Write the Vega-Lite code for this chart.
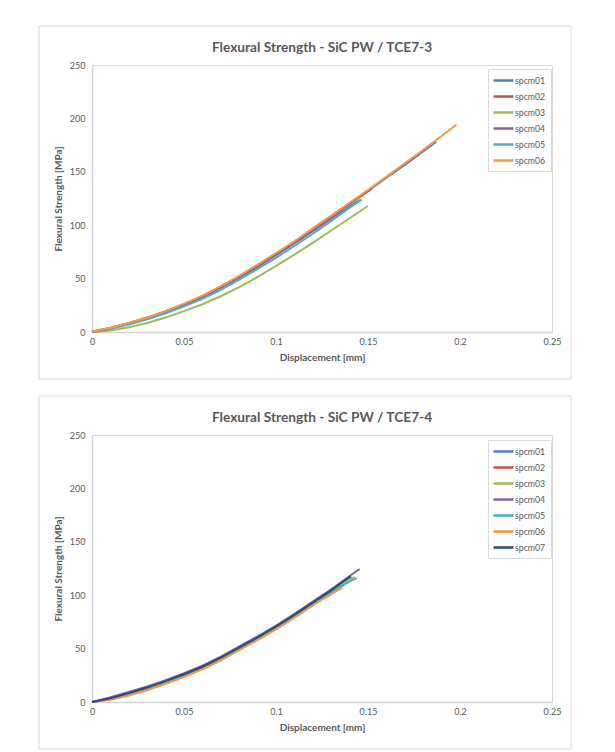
{
  "$schema": "https://vega.github.io/schema/vega-lite/v6.json",
  "padding": {"left": 38, "top": 25, "right": 5, "bottom": 2},
  "background": "white",
  "spacing": 15,
  "resolve": {"scale": {"color": "independent"}, "legend": {"color": "independent"}},
  "config": {
    "font": "Lato",
    "view": {"stroke": "#d9d9d9", "strokeWidth": 1},
    "axis": {
      "domainColor": "#d4d4d4", "domainWidth": 1.5, "ticks": false, "labelFlush": false,
      "gridColor": "#d9d9d9", "gridDash": [4, 3], "gridWidth": 1,
      "labelColor": "#595959", "labelFont": "Lato", "labelFontSize": 9,
      "titleColor": "#595959", "titleFont": "Lato", "titleFontSize": 10, "titleFontWeight": "bold"
    },
    "title": {"font": "Lato", "fontSize": 13.7, "fontWeight": "bold", "color": "#595959", "anchor": "middle", "offset": -29},
    "legend": {
      "orient": "none", "title": null, "symbolType": "M-2,0H2", "symbolSize": 100, "symbolStrokeWidth": 2.5, "symbolOffset": 4,
      "labelFont": "Lato", "labelFontSize": 8.7, "labelColor": "#595959", "labelOffset": 5,
      "strokeColor": "#d9d9d9", "fillColor": "white", "padding": 5, "rowPadding": 4
    }
  },
  "datasets": {
    "t3": [
      {"s":"spcm01","d":0,"f":0},{"s":"spcm01","d":0.01,"f":3.5},{"s":"spcm01","d":0.02,"f":8},{"s":"spcm01","d":0.03,"f":13},{"s":"spcm01","d":0.04,"f":19},{"s":"spcm01","d":0.05,"f":25.5},{"s":"spcm01","d":0.06,"f":33},{"s":"spcm01","d":0.07,"f":42},{"s":"spcm01","d":0.08,"f":51.5},{"s":"spcm01","d":0.09,"f":62},{"s":"spcm01","d":0.1,"f":73},{"s":"spcm01","d":0.11,"f":84},{"s":"spcm01","d":0.12,"f":96},{"s":"spcm01","d":0.13,"f":108},{"s":"spcm01","d":0.14,"f":120},{"s":"spcm01","d":0.15,"f":132},{"s":"spcm01","d":0.16,"f":144.5},{"s":"spcm01","d":0.17,"f":156.5},{"s":"spcm01","d":0.18,"f":169},{"s":"spcm01","d":0.187,"f":178},
      {"s":"spcm02","d":0,"f":0.5},{"s":"spcm02","d":0.01,"f":4},{"s":"spcm02","d":0.02,"f":8.5},{"s":"spcm02","d":0.03,"f":13.5},{"s":"spcm02","d":0.04,"f":19.5},{"s":"spcm02","d":0.05,"f":26},{"s":"spcm02","d":0.06,"f":33.5},{"s":"spcm02","d":0.07,"f":42.5},{"s":"spcm02","d":0.08,"f":52},{"s":"spcm02","d":0.09,"f":62.5},{"s":"spcm02","d":0.1,"f":73.5},{"s":"spcm02","d":0.11,"f":84.5},{"s":"spcm02","d":0.12,"f":96.5},{"s":"spcm02","d":0.13,"f":108.5},{"s":"spcm02","d":0.14,"f":120.5},{"s":"spcm02","d":0.152,"f":134},
      {"s":"spcm03","d":0,"f":0},{"s":"spcm03","d":0.01,"f":1.5},{"s":"spcm03","d":0.02,"f":4.5},{"s":"spcm03","d":0.03,"f":8.5},{"s":"spcm03","d":0.04,"f":13.5},{"s":"spcm03","d":0.05,"f":19.5},{"s":"spcm03","d":0.06,"f":26},{"s":"spcm03","d":0.07,"f":33.5},{"s":"spcm03","d":0.08,"f":42},{"s":"spcm03","d":0.09,"f":51.5},{"s":"spcm03","d":0.1,"f":62},{"s":"spcm03","d":0.11,"f":72.5},{"s":"spcm03","d":0.12,"f":83.5},{"s":"spcm03","d":0.13,"f":95},{"s":"spcm03","d":0.14,"f":106.5},{"s":"spcm03","d":0.15,"f":118},
      {"s":"spcm04","d":0,"f":0},{"s":"spcm04","d":0.01,"f":3.5},{"s":"spcm04","d":0.02,"f":8},{"s":"spcm04","d":0.03,"f":13},{"s":"spcm04","d":0.04,"f":19},{"s":"spcm04","d":0.05,"f":25.5},{"s":"spcm04","d":0.06,"f":33},{"s":"spcm04","d":0.07,"f":41.5},{"s":"spcm04","d":0.08,"f":51},{"s":"spcm04","d":0.09,"f":61},{"s":"spcm04","d":0.1,"f":72},{"s":"spcm04","d":0.11,"f":83},{"s":"spcm04","d":0.12,"f":94.5},{"s":"spcm04","d":0.13,"f":106},{"s":"spcm04","d":0.14,"f":117.5},{"s":"spcm04","d":0.146,"f":124},
      {"s":"spcm05","d":0,"f":0},{"s":"spcm05","d":0.01,"f":3},{"s":"spcm05","d":0.02,"f":7},{"s":"spcm05","d":0.03,"f":12},{"s":"spcm05","d":0.04,"f":17.5},{"s":"spcm05","d":0.05,"f":24},{"s":"spcm05","d":0.06,"f":31},{"s":"spcm05","d":0.07,"f":39.5},{"s":"spcm05","d":0.08,"f":49},{"s":"spcm05","d":0.09,"f":59},{"s":"spcm05","d":0.1,"f":69.5},{"s":"spcm05","d":0.11,"f":80.5},{"s":"spcm05","d":0.12,"f":92},{"s":"spcm05","d":0.13,"f":104},{"s":"spcm05","d":0.14,"f":116.5},{"s":"spcm05","d":0.1466,"f":124},
      {"s":"spcm06","d":0,"f":0.5},{"s":"spcm06","d":0.01,"f":4},{"s":"spcm06","d":0.02,"f":8.5},{"s":"spcm06","d":0.03,"f":13.5},{"s":"spcm06","d":0.04,"f":19.5},{"s":"spcm06","d":0.05,"f":26.5},{"s":"spcm06","d":0.06,"f":34},{"s":"spcm06","d":0.07,"f":43},{"s":"spcm06","d":0.08,"f":52.5},{"s":"spcm06","d":0.09,"f":63},{"s":"spcm06","d":0.1,"f":74},{"s":"spcm06","d":0.11,"f":85},{"s":"spcm06","d":0.12,"f":97},{"s":"spcm06","d":0.13,"f":109},{"s":"spcm06","d":0.14,"f":121},{"s":"spcm06","d":0.15,"f":133},{"s":"spcm06","d":0.16,"f":145.5},{"s":"spcm06","d":0.17,"f":158},{"s":"spcm06","d":0.18,"f":170.5},{"s":"spcm06","d":0.19,"f":183.5},{"s":"spcm06","d":0.198,"f":194}
    ],
    "t4": [
      {"s":"spcm01","d":0,"f":0},{"s":"spcm01","d":0.01,"f":3.5},{"s":"spcm01","d":0.02,"f":8},{"s":"spcm01","d":0.03,"f":13},{"s":"spcm01","d":0.04,"f":19},{"s":"spcm01","d":0.05,"f":25.5},{"s":"spcm01","d":0.06,"f":32.5},{"s":"spcm01","d":0.07,"f":41},{"s":"spcm01","d":0.08,"f":50.5},{"s":"spcm01","d":0.09,"f":60},{"s":"spcm01","d":0.1,"f":70},{"s":"spcm01","d":0.11,"f":81},{"s":"spcm01","d":0.12,"f":92.5},{"s":"spcm01","d":0.13,"f":104},{"s":"spcm01","d":0.141,"f":117},
      {"s":"spcm02","d":0,"f":0},{"s":"spcm02","d":0.01,"f":2.5},{"s":"spcm02","d":0.02,"f":7},{"s":"spcm02","d":0.03,"f":12},{"s":"spcm02","d":0.04,"f":18},{"s":"spcm02","d":0.05,"f":24.5},{"s":"spcm02","d":0.06,"f":31.5},{"s":"spcm02","d":0.07,"f":40},{"s":"spcm02","d":0.08,"f":49.5},{"s":"spcm02","d":0.09,"f":59},{"s":"spcm02","d":0.1,"f":69},{"s":"spcm02","d":0.11,"f":80},{"s":"spcm02","d":0.12,"f":91.5},{"s":"spcm02","d":0.13,"f":103},{"s":"spcm02","d":0.137,"f":111},
      {"s":"spcm03","d":0,"f":0},{"s":"spcm03","d":0.01,"f":3},{"s":"spcm03","d":0.02,"f":7.5},{"s":"spcm03","d":0.03,"f":12.5},{"s":"spcm03","d":0.04,"f":18.5},{"s":"spcm03","d":0.05,"f":25},{"s":"spcm03","d":0.06,"f":32},{"s":"spcm03","d":0.07,"f":40.5},{"s":"spcm03","d":0.08,"f":50},{"s":"spcm03","d":0.09,"f":59.5},{"s":"spcm03","d":0.1,"f":69.5},{"s":"spcm03","d":0.11,"f":80.5},{"s":"spcm03","d":0.12,"f":92},{"s":"spcm03","d":0.13,"f":103.5},{"s":"spcm03","d":0.14,"f":114.5},{"s":"spcm03","d":0.1428,"f":117},
      {"s":"spcm04","d":0,"f":0},{"s":"spcm04","d":0.01,"f":4.5},{"s":"spcm04","d":0.02,"f":9.5},{"s":"spcm04","d":0.03,"f":14.5},{"s":"spcm04","d":0.04,"f":20.5},{"s":"spcm04","d":0.05,"f":27},{"s":"spcm04","d":0.06,"f":34},{"s":"spcm04","d":0.07,"f":42.5},{"s":"spcm04","d":0.08,"f":52},{"s":"spcm04","d":0.09,"f":61.5},{"s":"spcm04","d":0.1,"f":71.5},{"s":"spcm04","d":0.11,"f":82.5},{"s":"spcm04","d":0.12,"f":94},{"s":"spcm04","d":0.13,"f":105.5},{"s":"spcm04","d":0.14,"f":118},{"s":"spcm04","d":0.1455,"f":124.5},
      {"s":"spcm05","d":0,"f":0},{"s":"spcm05","d":0.01,"f":2.5},{"s":"spcm05","d":0.02,"f":6.5},{"s":"spcm05","d":0.03,"f":11.5},{"s":"spcm05","d":0.04,"f":17.5},{"s":"spcm05","d":0.05,"f":24},{"s":"spcm05","d":0.06,"f":31},{"s":"spcm05","d":0.07,"f":39.5},{"s":"spcm05","d":0.08,"f":49},{"s":"spcm05","d":0.09,"f":58.5},{"s":"spcm05","d":0.1,"f":68.5},{"s":"spcm05","d":0.11,"f":79.5},{"s":"spcm05","d":0.12,"f":91},{"s":"spcm05","d":0.13,"f":102.5},{"s":"spcm05","d":0.14,"f":113},{"s":"spcm05","d":0.1439,"f":116},
      {"s":"spcm06","d":0,"f":0},{"s":"spcm06","d":0.01,"f":2},{"s":"spcm06","d":0.02,"f":6},{"s":"spcm06","d":0.03,"f":11},{"s":"spcm06","d":0.04,"f":17},{"s":"spcm06","d":0.05,"f":23.5},{"s":"spcm06","d":0.06,"f":30.5},{"s":"spcm06","d":0.07,"f":39},{"s":"spcm06","d":0.08,"f":48.5},{"s":"spcm06","d":0.09,"f":58},{"s":"spcm06","d":0.1,"f":68},{"s":"spcm06","d":0.11,"f":79},{"s":"spcm06","d":0.12,"f":90.5},{"s":"spcm06","d":0.13,"f":101},{"s":"spcm06","d":0.136,"f":107},
      {"s":"spcm07","d":0,"f":0},{"s":"spcm07","d":0.01,"f":3.5},{"s":"spcm07","d":0.02,"f":8.5},{"s":"spcm07","d":0.03,"f":13.5},{"s":"spcm07","d":0.04,"f":19.5},{"s":"spcm07","d":0.05,"f":26},{"s":"spcm07","d":0.06,"f":33},{"s":"spcm07","d":0.07,"f":41.5},{"s":"spcm07","d":0.08,"f":51},{"s":"spcm07","d":0.09,"f":60.5},{"s":"spcm07","d":0.1,"f":70.5},{"s":"spcm07","d":0.11,"f":81.5},{"s":"spcm07","d":0.12,"f":93},{"s":"spcm07","d":0.13,"f":104.5},{"s":"spcm07","d":0.1406,"f":118}
    ]
  },
  "vconcat": [
    {
      "width": 460, "height": 267,
      "title": {"text": "Flexural Strength - SiC PW / TCE7-3"},
      "layer": [
        {
          "data": {"values": [{}]},
          "mark": {"type": "rect", "fillOpacity": 0, "stroke": "#d9d9d9", "strokeWidth": 1, "clip": false},
          "encoding": {
            "x": {"datum": -0.0288, "type": "quantitative", "title": "Displacement [mm]", "scale": {"domain": [0, 0.25], "nice": false}, "axis": {"values": [0, 0.05, 0.1, 0.15, 0.2, 0.25], "format": "~f", "labelPadding": 5, "titlePadding": 6}},
            "x2": {"datum": 0.2603},
            "y": {"datum": 286.5, "type": "quantitative", "title": "Flexural Strength [MPa]", "scale": {"domain": [0, 250], "nice": false}, "axis": {"values": [0, 50, 100, 150, 200, 250], "labelPadding": 7, "titlePadding": 6}},
            "y2": {"datum": -44}
          }
        },
        {
          "data": {"name": "t3"},
          "mark": {"type": "line", "strokeWidth": 2},
          "encoding": {
            "x": {"field": "d", "type": "quantitative", "title": "Displacement [mm]", "scale": {"domain": [0, 0.25], "nice": false}, "axis": {"values": [0, 0.05, 0.1, 0.15, 0.2, 0.25], "format": "~f", "labelPadding": 5, "titlePadding": 6}},
            "y": {"field": "f", "type": "quantitative", "title": "Flexural Strength [MPa]", "scale": {"domain": [0, 250], "nice": false}, "axis": {"values": [0, 50, 100, 150, 200, 250], "labelPadding": 7, "titlePadding": 6}},
            "color": {"field": "s", "type": "nominal",
              "scale": {"domain": ["spcm01","spcm02","spcm03","spcm04","spcm05","spcm06"], "range": ["#4F81BD","#C0504D","#9BBB59","#8064A2","#4BACC6","#F79646"]},
              "legend": {"legendX": 396, "legendY": 4}}
          }
        }
      ]
    },
    {
      "width": 460, "height": 267,
      "title": {"text": "Flexural Strength - SiC PW / TCE7-4"},
      "layer": [
        {
          "data": {"values": [{}]},
          "mark": {"type": "rect", "fillOpacity": 0, "stroke": "#d9d9d9", "strokeWidth": 1, "clip": false},
          "encoding": {
            "x": {"datum": -0.0288, "type": "quantitative", "title": "Displacement [mm]", "scale": {"domain": [0, 0.25], "nice": false}, "axis": {"values": [0, 0.05, 0.1, 0.15, 0.2, 0.25], "format": "~f", "labelPadding": 5, "titlePadding": 6}},
            "x2": {"datum": 0.2603},
            "y": {"datum": 286.5, "type": "quantitative", "title": "Flexural Strength [MPa]", "scale": {"domain": [0, 250], "nice": false}, "axis": {"values": [0, 50, 100, 150, 200, 250], "labelPadding": 7, "titlePadding": 6}},
            "y2": {"datum": -44}
          }
        },
        {
          "data": {"name": "t4"},
          "mark": {"type": "line", "strokeWidth": 2},
          "encoding": {
            "x": {"field": "d", "type": "quantitative", "title": "Displacement [mm]", "scale": {"domain": [0, 0.25], "nice": false}, "axis": {"values": [0, 0.05, 0.1, 0.15, 0.2, 0.25], "format": "~f", "labelPadding": 5, "titlePadding": 6}},
            "y": {"field": "f", "type": "quantitative", "title": "Flexural Strength [MPa]", "scale": {"domain": [0, 250], "nice": false}, "axis": {"values": [0, 50, 100, 150, 200, 250], "labelPadding": 7, "titlePadding": 6}},
            "color": {"field": "s", "type": "nominal",
              "scale": {"domain": ["spcm01","spcm02","spcm03","spcm04","spcm05","spcm06","spcm07"], "range": ["#4F81BD","#C0504D","#9BBB59","#8064A2","#4BACC6","#F79646","#2C4D75"]},
              "legend": {"legendX": 396, "legendY": 5}}
          }
        }
      ]
    }
  ]
}
